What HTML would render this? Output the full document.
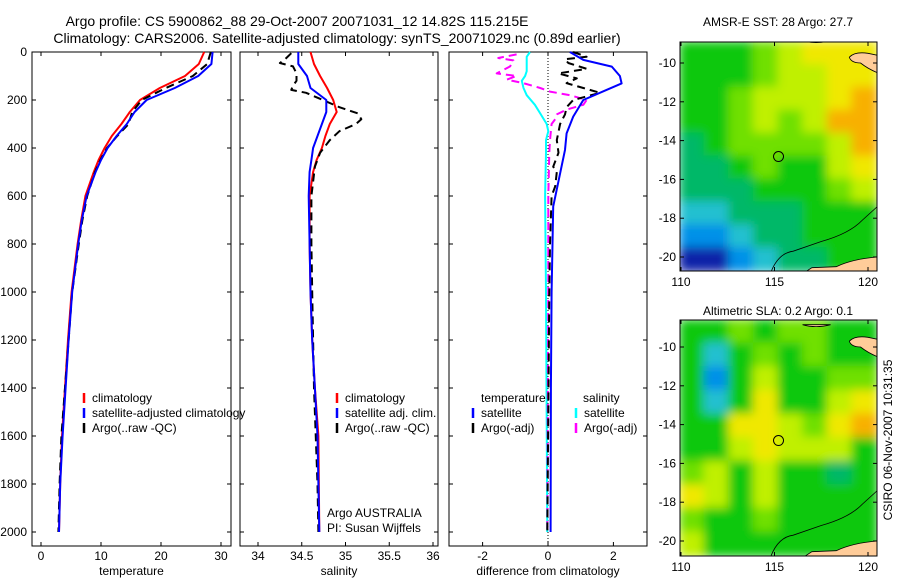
<!DOCTYPE html>
<html><head><meta charset="utf-8">
<style>
body{margin:0;background:#fff;}
svg{display:block;font-family:"Liberation Sans",sans-serif;}
text{font-size:12px;fill:#000;}
</style></head>
<body>
<svg id="c" width="900" height="580" viewBox="0 0 900 580">
<defs>
<filter id="blur" x="0" y="0" width="1" height="1"><feGaussianBlur stdDeviation="5"/></filter>
<clipPath id="clipA"><rect x="680" y="42" width="197" height="229"/></clipPath>
<clipPath id="clipB"><rect x="680" y="320" width="197" height="236"/></clipPath>
</defs>
<text x="297" y="26" text-anchor="middle" style="font-size:14px">Argo profile: CS 5900862_88 29-Oct-2007 20071031_12 14.82S 115.215E</text>
<text x="337" y="43" text-anchor="middle" style="font-size:14px">Climatology: CARS2006. Satellite-adjusted climatology: synTS_20071029.nc (0.89d earlier)</text>
<text x="778" y="26" text-anchor="middle">AMSR-E SST: 28 Argo: 27.7</text>
<text x="778" y="315" text-anchor="middle">Altimetric SLA: 0.2 Argo: 0.1</text>
<text transform="translate(892,440) rotate(-90)" text-anchor="middle">CSIRO 06-Nov-2007 10:31:35</text>
<g id="g"></g>
</svg>
<script>
// ---- data ----
const depthTicks=[0,200,400,600,800,1000,1200,1400,1600,1800,2000];
const tTicks=[0,10,20,30];
const sTicks=[34,34.5,35,35.5,36];
const dTicks=[-2,0,2];
const tClimDepth=[0,50,100,150,200,250,300,350,400,450,500,600,700,800,1000,1200,1400,1600,1800,2000];
const tClim=[27.2,26.3,24,19.8,16.5,14.8,13.4,11.8,10.6,9.6,8.8,7.4,6.7,6.1,5.1,4.5,4.0,3.5,3.2,3.0];
const tSat=[28.6,28.4,26.2,22.3,17.6,15.6,14.3,12.6,11.1,10.0,9.1,7.6,6.8,6.2,5.2,4.6,4.1,3.6,3.2,3.0];
const tArgo=[28.3,27.7,25.3,20.8,16.8,15.2,14.6,12.7,11.0,9.9,9.0,7.7,6.9,6.3,5.2,4.6,4.0,3.4,3.1,2.9];
const sDepth=[0,50,100,150,200,250,300,350,400,450,500,600,800,1000,1200,1400,1600,2000];
const sClim=[34.6,34.64,34.71,34.79,34.86,34.9,34.82,34.77,34.73,34.67,34.63,34.59,34.59,34.6,34.62,34.65,34.69,34.7];
const sSat=[34.46,34.46,34.56,34.6,34.78,34.78,34.73,34.68,34.63,34.61,34.59,34.58,34.59,34.6,34.62,34.65,34.68,34.7];
const aSalDepth=[5,30,46,60,89,120,140,158,170,200,230,256,280,300,330,367,420,478,600,800,1000,1400,1800,2000];
const aSal=[34.38,34.31,34.25,34.40,34.44,34.44,34.40,34.38,34.55,34.74,34.93,35.14,35.18,35.12,34.93,34.82,34.71,34.65,34.61,34.61,34.62,34.64,34.68,34.69];
const dTDepth=[0,33,61,100,131,158,200,269,339,408,506,644,1000,1400,2000];
const dTSat=[0.67,1.08,1.95,2.2,2.25,1.79,1.08,0.77,0.57,0.52,0.37,0.16,0.11,0.09,0.08];
const dTArgoDepth=[0,20,30,46,70,89,110,130,150,170,185,200,230,260,300,367,420,478,500,560,600,800,1000,1500,2000];
const dTArgo=[0.77,1.18,0.52,0.62,1.18,0.32,0.88,0.57,1.08,1.59,1.18,0.77,0.57,0.52,0.37,0.27,0.32,0.16,0.27,0.22,0.11,0.06,0.04,0.01,-0.02];
const dSDepth=[0,20,46,80,100,120,150,180,220,256,300,330,367,420,600,1000,2000];
const dSSat=[-0.55,-0.65,-0.65,-0.65,-0.7,-0.8,-0.75,-0.65,-0.4,-0.24,-0.04,0.01,-0.06,-0.06,-0.09,-0.06,-0.02];
const dSArgoDepth=[10,25,35,60,89,100,115,130,150,165,180,200,220,240,260,280,300,367,420,600,1000,2000];
const dSArgo=[-0.96,-1.52,-1.06,-1.16,-1.57,-0.96,-1.26,-0.75,-0.24,0.06,0.67,1.18,1.08,0.57,0.27,0.22,0.11,0.06,0.04,0.01,0.01,-0.02];
const lonTicks=[110,115,120];
const latTicks=[-10,-12,-14,-16,-18,-20];
const sstGrid=["ggglyYYY","ggglyyYY","gglyyyYo","gglylyoo","tgllllyo","ttglggyY","tttgggly","cctttggg","bbcttggg","BBbcttgg"];
const slaGrid=["gglgllgg","gcglglgg","gbgyggll","gcgYggyY","ggYYylYo","ggyYyyyg","lygyggtg","Yygygggg","lgglgggg","yggggggg"];
const argoLon=115.215, argoLat=-14.82;
// ---- helpers ----
const NS="http://www.w3.org/2000/svg";
const G=document.getElementById('g');
function mk(tag,attrs,parent){const e=document.createElementNS(NS,tag);for(const k in attrs)e.setAttribute(k,attrs[k]);(parent||G).appendChild(e);return e;}
const yD=d=>52+d*0.24;
function panel(x0,x1,xs,ticks,label,name,showY){
  const b=mk('rect',{x:x0,y:52,width:x1-x0,height:494,fill:'none',stroke:'#000','stroke-width':1});
  
  
  ticks.forEach(t=>{const x=xs(t);
    mk('line',{x1:x,x2:x,y1:52,y2:56,stroke:'#000'});mk('line',{x1:x,x2:x,y1:546,y2:542,stroke:'#000'});
    const tx=mk('text',{x:x,y:560,'text-anchor':'middle'});tx.textContent=t;
    
    });
  depthTicks.forEach(d=>{const y=yD(d);
    mk('line',{x1:x0,x2:x0+4,y1:y,y2:y,stroke:'#000'});mk('line',{x1:x1,x2:x1-4,y1:y,y2:y,stroke:'#000'});
    if(showY){const tx=mk('text',{x:x0-5,y:y+4,'text-anchor':'end'});tx.textContent=d;
      
      }});
  const l=mk('text',{x:(x0+x1)/2,y:575,'text-anchor':'middle'});l.textContent=label;
  
  
}
function line(xs,depths,vals,color,dash,name,w){
  const p=depths.map((d,i)=>(i?'L':'M')+xs(vals[i]).toFixed(1)+','+yD(d).toFixed(1)).join('');
  const e=mk('path',{d:p,fill:'none',stroke:color,'stroke-width':w||2,'stroke-dasharray':dash||'none','stroke-linejoin':'round'});
  
  
}
function legend(x,y,color,label,name){
  mk('line',{x1:x,x2:x,y1:y-9,y2:y+1,stroke:color,'stroke-width':2.5});
  const t=mk('text',{x:x+8,y:y});t.textContent=label;
  
  
}
// ---- panel 1: temperature ----
const xT=v=>41+v*6;
panel(32,231,xT,tTicks,'temperature','temperature-panel',true);
line(xT,tClimDepth,tClim,'#f00',null,'temp-climatology-line');
line(xT,tClimDepth,tArgo,'#000','8,5','temp-argo-line');
line(xT,tClimDepth,tSat,'#00f',null,'temp-satellite-line');
legend(84,402,'#f00','climatology','legend-climatology');
legend(84,417,'#00f','satellite-adjusted climatology','legend-satellite-adjusted');
legend(84,432,'#000','Argo(..raw -QC)','legend-argo');
// ---- panel 2: salinity ----
const xS=v=>258+(v-34)*87.5;
panel(240,438,xS,sTicks,'salinity','salinity-panel',false);
line(xS,sDepth,sClim,'#f00',null,'sal-climatology-line');
line(xS,aSalDepth,aSal,'#000','8,5','sal-argo-line');
line(xS,sDepth,sSat,'#00f',null,'sal-satellite-line');
legend(337,402,'#f00','climatology','legend-sal-climatology');
legend(337,417,'#00f','satellite adj. clim.','legend-sal-satellite');
legend(337,432,'#000','Argo(..raw -QC)','legend-sal-argo');
let t1=mk('text',{x:327,y:517});t1.textContent='Argo AUSTRALIA';


let t2=mk('text',{x:327,y:532});t2.textContent='PI: Susan Wijffels';


// ---- panel 3: difference ----
const xDf=v=>548+v*32.7;
panel(449,647,xDf,dTicks,'difference from climatology','difference-panel',false);
mk('line',{x1:548,x2:548,y1:52,y2:546,stroke:'#000','stroke-dasharray':'1,2'});
line(xDf,dSDepth,dSSat,'#0ff',null,'diff-sal-satellite-line');
line(xDf,dSArgoDepth,dSArgo,'#f0f','8,5','diff-sal-argo-line');
line(xDf,dTArgoDepth,dTArgo,'#000','8,5','diff-temp-argo-line');
line(xDf,dTDepth,dTSat,'#00f',null,'diff-temp-satellite-line');
let t3=mk('text',{x:481,y:402});t3.textContent='temperature';


let t4=mk('text',{x:583,y:402});t4.textContent='salinity';


legend(473,417,'#00f','satellite','legend-diff-temp-satellite');
legend(473,432,'#000','Argo(-adj)','legend-diff-temp-argo');
legend(576,417,'#0ff','satellite','legend-diff-sal-satellite');
legend(576,432,'#f0f','Argo(-adj)','legend-diff-sal-argo');
// ---- maps ----
const cmap={B:'#0820a8',b:'#0090e8',c:'#20c0d0',t:'#00b868',g:'#10c810',l:'#70e000',y:'#c0f000',Y:'#f0e800',o:'#f8b000'};
function map(y0,h,grid,name,clip){
  const x0=680,w=197;
  const xL=lon=>681+(lon-110)*18.7;
  const yL=lat=>(y0===42?63:347)+(-10-lat)*19.4;
  const g=mk('g',{'clip-path':'url(#'+clip+')'});
  
  
  const gb=mk('g',{filter:'url(#blur)'},g);
  const cw=w/8,ch=h/10;
  mk('rect',{x:x0,y:y0,width:w,height:h,fill:cmap.g},gb);
  grid.forEach((r,i)=>{for(let j=0;j<8;j++)mk('rect',{x:x0+j*cw-1,y:y0+i*ch-1,width:cw+2,height:ch+2,fill:cmap[r[j]]},gb);});
  // land
  mk('path',{d:`M${xL(119.0)},${yL(-9.7)} Q${xL(119.3)},${yL(-9.4)} ${xL(120)},${yL(-9.5)} L${xL(120.5)},${yL(-9.6)} L${xL(120.5)},${yL(-10.5)} Q${xL(120)},${yL(-10.3)} ${xL(119.6)},${yL(-10.0)} Q${xL(119.1)},${yL(-10.0)} ${xL(119.0)},${yL(-9.7)} Z`,fill:'#ffcc99',stroke:'#000','stroke-width':0.8},g);
  mk('path',{d:`M${xL(116.5)},${yL(-8.85)} L${xL(118)},${yL(-8.85)} Q${xL(117.2)},${yL(-9.05)} ${xL(116.5)},${yL(-8.85)} Z`,fill:'#ffcc99',stroke:'#000','stroke-width':0.8},g);
  mk('path',{d:`M${xL(116.6)},${yL(-20.8)} L${xL(117)},${yL(-20.55)} L${xL(118.3)},${yL(-20.5)} Q${xL(119.2)},${yL(-20.1)} ${xL(120.5)},${yL(-20.0)} L${xL(120.5)},${yL(-20.8)} Z`,fill:'#ffcc99',stroke:'#000','stroke-width':0.8},g);
  mk('path',{d:`M${xL(114.8)},${yL(-20.8)} Q${xL(115.2)},${yL(-19.8)} ${xL(116)},${yL(-19.7)} L${xL(117.5)},${yL(-19.2)} Q${xL(119)},${yL(-18.8)} ${xL(119.7)},${yL(-18.1)} L${xL(120.5)},${yL(-17.4)}`,fill:'none',stroke:'#000','stroke-width':0.8},g);
  const c=mk('circle',{cx:xL(argoLon),cy:yL(argoLat),r:5,fill:'none',stroke:'#000','stroke-width':1});
  
  
  mk('rect',{x:x0,y:y0,width:w,height:h,fill:'none',stroke:'#000'});
  lonTicks.forEach(l=>{const x=xL(l);mk('line',{x1:x,x2:x,y1:y0+h,y2:y0+h-4,stroke:'#000'});mk('line',{x1:x,x2:x,y1:y0,y2:y0+4,stroke:'#000'});
    const t=mk('text',{x:x,y:y0+h+15,'text-anchor':'middle'});t.textContent=l;
    
    });
  latTicks.forEach(l=>{const y=yL(l);mk('line',{x1:x0,x2:x0+4,y1:y,y2:y,stroke:'#000'});mk('line',{x1:x0+w,x2:x0+w-4,y1:y,y2:y,stroke:'#000'});
    const t=mk('text',{x:x0-4,y:y+4,'text-anchor':'end'});t.textContent=l;
    
    });
}
map(42,229,sstGrid,'sst-map','clipA');
map(320,236,slaGrid,'sla-map','clipB');
</script>
</body></html>
